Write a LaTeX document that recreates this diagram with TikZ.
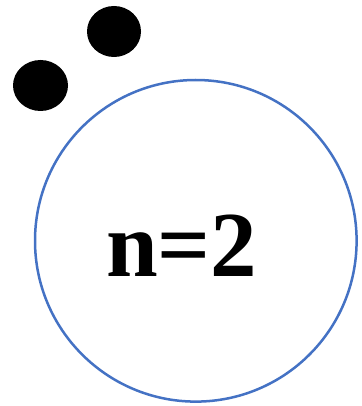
\documentclass[tikz,border=0pt]{standalone}
\usepackage{fontspec}
\newfontfamily\labelfont{Liberation Serif}
\usepackage{tikz}
\usetikzlibrary{shapes,positioning}
\definecolor{ringblue}{RGB}{68,114,196}

\begin{document}
\begin{tikzpicture}[x=1pt,y=-1pt]
    \useasboundingbox (0,0) rectangle (361,406);

    \draw[ringblue, line width=2.5pt] (195.8,240.8) circle (160.8);
    \node[anchor=base, inner sep=0pt, font=\labelfont\bfseries\fontsize{93}{93}\selectfont] (label) at (181.8,276) {n=2};

    \fill[black] (114,31.5) ellipse (27 and 25.5);
    \fill[black] (40.5,85.5) ellipse (27.5 and 25.5);
\end{tikzpicture}
\end{document}
